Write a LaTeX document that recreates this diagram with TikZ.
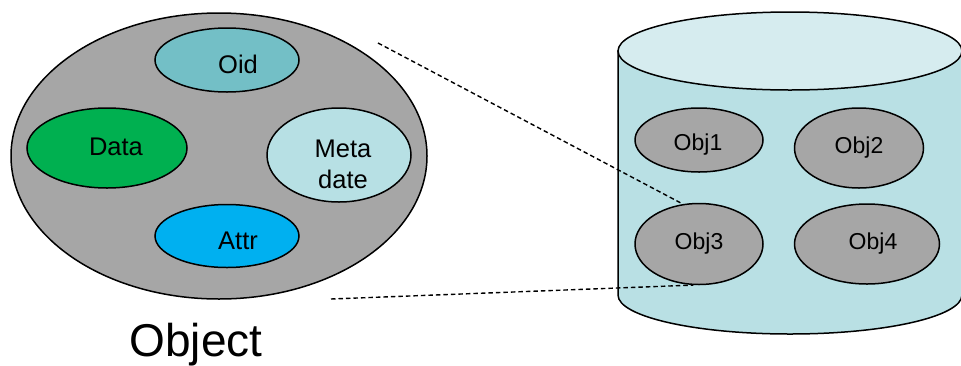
\documentclass[tikz,border=0pt]{standalone}
\usepackage{fontspec}
\setmainfont{Liberation Sans}
\usetikzlibrary{shapes.geometric}

\definecolor{objgray}{RGB}{166,166,166}
\definecolor{oidteal}{RGB}{115,191,198}
\definecolor{datagreen}{RGB}{0,176,80}
\definecolor{metalight}{RGB}{183,224,228}
\definecolor{attrblue}{RGB}{0,176,240}
\definecolor{cylbody}{RGB}{185,224,228}
\definecolor{cyltop}{RGB}{214,236,239}

\begin{document}
\begin{tikzpicture}[x=1pt,y=-1pt,
  blob/.style={ellipse, draw=black, line width=1.5pt, inner sep=0pt},
  small/.style={font=\fontsize{25.5pt}{31pt}\selectfont, anchor=base, inner sep=0pt},
  objtxt/.style={font=\fontsize{23pt}{28pt}\selectfont, anchor=base, inner sep=0pt},
  link/.style={draw=black, line width=1.4pt, dash pattern=on 4.5pt off 3pt}
]
\useasboundingbox (0,0) rectangle (961,365);

% the object and its parts
\node[blob, fill=objgray, minimum width=416pt, minimum height=286pt] (object) at (219,156) {};
\node[blob, fill=oidteal, minimum width=144pt, minimum height=64pt] (oid) at (227,60) {};
\node[blob, fill=datagreen, minimum width=160pt, minimum height=80pt] (data) at (107,148) {};
\node[blob, fill=metalight, minimum width=144pt, minimum height=94pt] (meta) at (339,155) {};
\node[blob, fill=attrblue, minimum width=144pt, minimum height=63pt] (attr) at (227,236) {};

\node[small] (oidlbl) at (238,73) {Oid};
\node[small] (datalbl) at (116,155) {Data};
\node[font=\fontsize{25.5pt}{31pt}\selectfont, align=center, inner sep=0pt] (metalbl) at (343,164.5) {Meta\\date};
\node[small] (attrlbl) at (238,249) {Attr};
\node[font=\fontsize{46pt}{52pt}\selectfont, anchor=base, inner sep=0pt] (objectlbl) at (196,356.5) {Object};

% the store: a cylinder
\path[draw=black, line width=1.5pt, fill=cylbody]
  (618,51) -- (618,295) arc[start angle=180, end angle=360, x radius=172pt, y radius=39pt]
  -- (962,51) -- cycle;
\draw[line width=1.5pt, fill=cyltop] (790,51) ellipse [x radius=172pt, y radius=39pt];

\node[blob, fill=objgray, minimum width=128pt, minimum height=64pt] (obj1) at (699,140) {};
\node[blob, fill=objgray, minimum width=129pt, minimum height=80pt] (obj2) at (859,148) {};
\node[blob, fill=objgray, minimum width=128pt, minimum height=81pt] (obj3) at (699,244) {};
\node[blob, fill=objgray, minimum width=145pt, minimum height=80pt] (obj4) at (867,244) {};

\node[objtxt] (obj1lbl) at (698,150) {Obj1};
\node[objtxt] (obj2lbl) at (859,153) {Obj2};
\node[objtxt] (obj3lbl) at (699,249) {Obj3};
\node[objtxt] (obj4lbl) at (873,249) {Obj4};

% dashed projection from the object onto Obj3
\coordinate (topfree) at (378,43);
\coordinate (botfree) at (331,299);
\draw[link] (topfree) -- (obj3.112);
\draw[link] (botfree) -- (obj3.262);
\end{tikzpicture}
\end{document}
